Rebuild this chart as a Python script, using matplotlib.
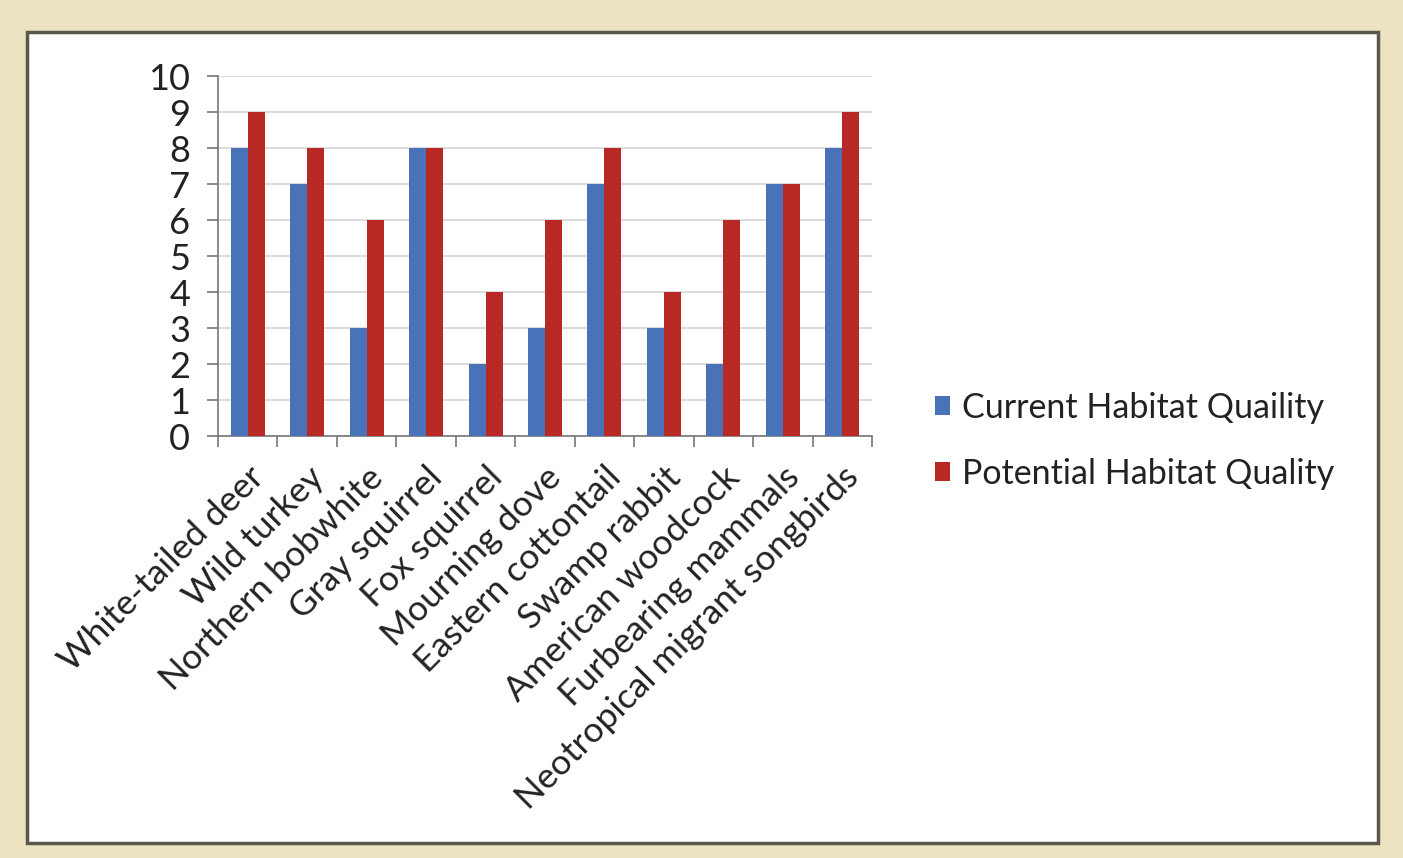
import numpy as np
import matplotlib.pyplot as plt
from matplotlib.patches import Rectangle

plt.rcParams['font.family'] = ['Lato', 'DejaVu Sans']

species = ['White-tailed deer', 'Wild turkey', 'Northern bobwhite', 'Gray squirrel',
           'Fox squirrel', 'Mourning dove', 'Eastern cottontail', 'Swamp rabbit',
           'American woodcock', 'Furbearing mammals', 'Neotropical migrant songbirds']
current = [8, 7, 3, 8, 2, 3, 7, 3, 2, 7, 8]
potential = [9, 8, 6, 8, 4, 6, 8, 4, 6, 7, 9]

blue = '#4a72b8'
red = '#b82824'

fig = plt.figure(figsize=(14.03, 8.58), dpi=100)
fig.patch.set_facecolor('#ebe3c2')

# white card with dark frame, kept behind the axes
card = Rectangle((27/1403, 15/858), 1351/1403, 811/858, transform=fig.transFigure,
                 facecolor='white', edgecolor='#5a574c', lw=2.5, zorder=-10)
fig.patches.append(card)

ax = fig.add_axes((218/1403, 422/858, 654/1403, 360/858))
ax.set_facecolor('none')
ax.set_zorder(1)

x = np.arange(len(species))
w = 0.286
ax.bar(x - w/2, current, w, color=blue, label='Current Habitat Quaility', zorder=3)
ax.bar(x + w/2, potential, w, color=red, label='Potential Habitat Quality', zorder=3)

ax.set_xlim(-0.5, len(species) - 0.5)
ax.set_ylim(0, 10)
ax.set_yticks(range(0, 11))
ax.tick_params(axis='y', labelsize=26, length=8, width=1.2, color='#777777', pad=12,
               labelcolor='#222222')
ax.yaxis.grid(True, color='#d6d6d6', lw=1.2, zorder=0)

ax.set_xticks(x)
ax.set_xticklabels(species, rotation=45, ha='right', rotation_mode='anchor',
                   fontsize=25.5, color='#222222')
ax.set_xticks(np.arange(-0.5, len(species)), minor=True)
ax.tick_params(axis='x', which='major', length=0, pad=18)
ax.tick_params(axis='x', which='minor', length=8, width=1.2, color='#777777')

for s in ['top', 'right']:
    ax.spines[s].set_visible(False)
for s in ['left', 'bottom']:
    ax.spines[s].set_color('#777777')
    ax.spines[s].set_linewidth(1.2)

fig.legend(loc='upper left', bbox_to_anchor=(904/1403, 1 - 361/858), frameon=False,
           fontsize=24.5, handlelength=0.45, handleheight=0.45, handletextpad=0.35,
           labelspacing=1.0, labelcolor='#222222')

fig.savefig('out.png', dpi=100, facecolor=fig.get_facecolor())
